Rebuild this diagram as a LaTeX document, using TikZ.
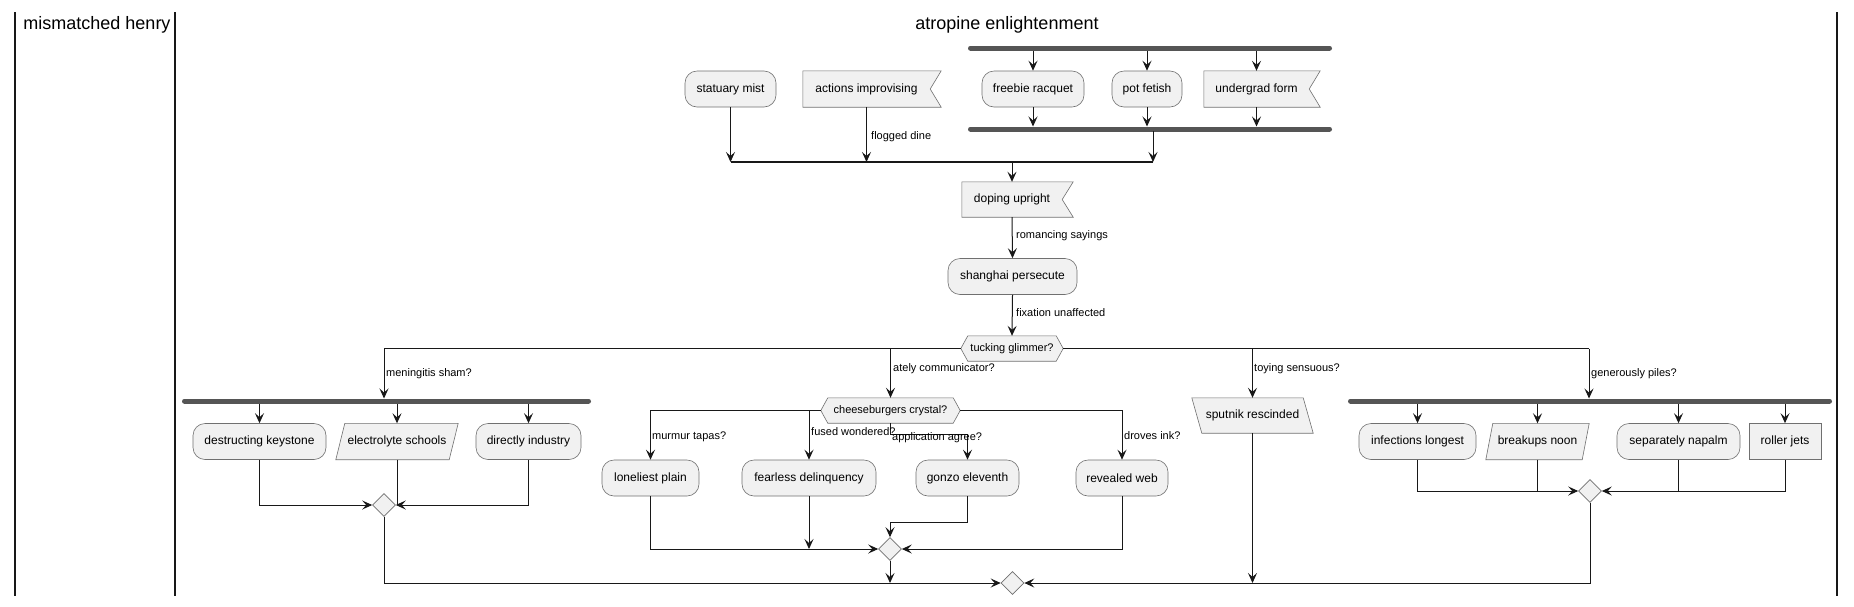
\documentclass[tikz,border=0pt]{standalone}
\usepackage{fontspec}
\setmainfont{Liberation Sans}
\usetikzlibrary{arrows.meta,backgrounds,calc,shapes.geometric}
\definecolor{boxfill}{HTML}{F1F1F1}
\definecolor{edgecol}{HTML}{181818}
\definecolor{boxedge}{HTML}{707070}
\definecolor{barcol}{HTML}{555555}
\tikzset{
  actbox/.style={draw=boxedge, fill=boxfill, line width=0.6pt, rounded corners=12pt,
    minimum height=36pt, inner sep=0pt, font=\fontsize{12}{14}\selectfont},
  rectbox/.style={actbox, rounded corners=0pt},
  bodytxt/.style={inner sep=0pt, minimum height=36pt, font=\fontsize{12}{14}\selectfont},
  hextxt/.style={inner sep=0pt, minimum height=25pt, font=\fontsize{11}{13}\selectfont},
  outline/.style={draw=boxedge, fill=boxfill, line width=0.6pt},
  lbl/.style={anchor=west, inner sep=0pt, font=\fontsize{11}{13}\selectfont},
  conn/.style={draw=edgecol, line width=1pt},
  arr/.style={conn, -{Stealth[length=10pt,width=9pt,inset=4pt]}},
  barline/.style={draw=barcol, line width=5pt, line cap=round},
  mergediam/.style={draw=boxedge, fill=boxfill, line width=0.6pt, shape=diamond,
    minimum width=23pt, minimum height=23pt, inner sep=0pt},
  laneline/.style={draw=edgecol, line width=1.5pt},
  lanetitle/.style={inner sep=0pt, font=\fontsize{18}{21}\selectfont}
}
\begin{document}
\begin{tikzpicture}[x=1pt,y=-1pt]
\useasboundingbox (0,0) rectangle (1854,606);

% lanes
\coordinate (L0t) at (15,12);   \coordinate (L0b) at (15,596);
\coordinate (L1t) at (175,12);  \coordinate (L1b) at (175,596);
\coordinate (L2t) at (1837,12); \coordinate (L2b) at (1837,596);
\draw[laneline] (L0t) -- (L0b);
\draw[laneline] (L1t) -- (L1b);
\draw[laneline] (L2t) -- (L2b);
\node[lanetitle] (lt1) at (97,25) {mismatched henry};
\node[lanetitle] (lt2) at (1007,25) {atropine enlightenment};

% ---------- top section ----------
\node[actbox, minimum width=91pt] (sm) at (730.5,89) {statuary mist};
\node[bodytxt, minimum width=127pt] (ai) at (866.5,89) {actions improvising};
\node[actbox, minimum width=102pt] (fr) at (1033,89) {freebie racquet};
\node[actbox, minimum width=70pt] (pf) at (1147,89) {pot fetish};
\node[bodytxt, minimum width=105pt] (uf) at (1256.5,89) {undergrad form};

\coordinate (b1l) at (970.5,48); \coordinate (b1r) at (1329.5,48);
\coordinate (b2l) at (970.5,129); \coordinate (b2r) at (1329.5,129);
\coordinate (b2top) at (1000,126.5);

\draw[arr] (fr.north |- b1l) -- (fr.north);
\draw[arr] (pf.north |- b1l) -- (pf.north);
\draw[arr] (uf.north |- b1l) -- (uf.north);
\draw[arr] (fr.south) -- (fr.south |- b2top);
\draw[arr] (pf.south) -- (pf.south |- b2top);
\draw[arr] (uf.south) -- (uf.south |- b2top);
\draw[barline] (b1l) -- (b1r);
\draw[barline] (b2l) -- (b2r);

\coordinate (jl) at (730.5,162); \coordinate (jr) at (1153,162);
\coordinate (b2out) at (1153,131);
\draw[arr] (sm.south) -- (sm.south |- jl);
\draw[arr] (ai.south) -- (ai.south |- jl);
\draw[arr] (b2out) -- (jr);
\draw[draw=edgecol, line width=1.8pt] (jl) -- (jr);
\node[lbl] (lfd) at (871,137) {flogged dine};

\node[bodytxt, minimum width=100pt, minimum height=35pt] (du) at (1012,199.5) {doping upright};
\draw[arr] (du.north |- jl) -- (du.north);
\node[actbox, minimum width=129pt] (shp) at (1012.5,276.5) {shanghai persecute};
\draw[arr] (du.south) -- (shp.north);
\node[lbl] (lrs) at (1016,236) {romancing sayings};
\node[hextxt, minimum width=102pt] (tg) at (1012,348.5) {tucking glimmer?};
\draw[arr] (shp.south) -- (tg.north);
\node[lbl] (lfu) at (1016,313) {fixation unaffected};

% ---------- branches of tucking glimmer ----------
\coordinate (tl) at (384,348.5); \coordinate (tr) at (1589,348.5);
\coordinate (f1l) at (184.5,401); \coordinate (f1r) at (588.5,401);
\coordinate (f3l) at (1350.5,401); \coordinate (f3r) at (1829.5,401);
\coordinate (f1top) at (384,398.5); \coordinate (f3top) at (1589,398.5);
\draw[conn] (tg.west) -- (tl);
\draw[conn] (tg.east) -- (tr);
\draw[arr] (tl) -- (f1top);
\draw[arr] (tr) -- (f3top);
\node[lbl] (lms) at (386,374) {meningitis sham?};
\node[lbl] (lgp) at (1591,374) {generously piles?};

% left fork group
\node[actbox, minimum width=133pt] (dk) at (259.5,441.5) {destructing keystone};
\node[bodytxt, minimum width=113pt] (es) at (397,441.5) {electrolyte schools};
\node[actbox, minimum width=105pt] (di) at (528.5,441.5) {directly industry};
\coordinate (f1bot) at (384,403.5);
\draw[arr] (dk.north |- f1bot) -- (dk.north);
\draw[arr] (es.north |- f1bot) -- (es.north);
\draw[arr] (di.north |- f1bot) -- (di.north);
\draw[barline] (f1l) -- (f1r);
\node[mergediam] (m1) at (384,505) {};
\draw[arr] (dk.south) |- (m1.west);
\draw[conn] (es.south) -- (es.south |- m1.east);
\draw[arr] (di.south) |- (m1.east);

% middle decision
\node[hextxt, minimum width=139pt] (cc) at (890.5,410.5) {cheeseburgers crystal?};
\draw[arr] (cc.north |- tl) -- (cc.north);
\node[lbl] (lac) at (893,369) {ately communicator?};
\node[actbox, minimum width=97pt] (lp) at (650.5,478) {loneliest plain};
\node[actbox, minimum width=134pt] (fd) at (809,478) {fearless delinquency};
\node[actbox, minimum width=103pt] (ge) at (967.5,478) {gonzo eleventh};
\node[actbox, minimum width=92pt] (rw) at (1122,478) {revealed web};
\draw[arr] (cc.west) -| (lp.north);
\draw[arr] (fd.north |- cc.west) -- (fd.north);
\draw[arr] (cc.east) -| (rw.north);
\coordinate (appk) at (890.5,434);
\draw[arr] (cc.south) -- (appk) -| (ge.north);
\node[lbl] (lmt) at (652,437) {murmur tapas?};
\node[lbl] (lfw) at (811,432) {fused wondered?};
\node[lbl] (laa) at (892,438) {application agree?};
\node[lbl] (ldi) at (1124,436) {droves ink?};
\node[mergediam] (m2) at (890,549) {};
\coordinate (gek) at (967.5,522);
\draw[arr] (lp.south) |- (m2.west);
\draw[arr] (fd.south) -- (fd.south |- m2.west);
\draw[arr] (ge.south) -- (gek) -| (m2.north);
\draw[arr] (rw.south) |- (m2.east);

% sputnik
\node[bodytxt, minimum width=111pt, minimum height=35pt] (sp) at (1252.5,415.5) {sputnik rescinded};
\draw[arr] (sp.north |- tr) -- (sp.north);
\node[lbl] (lts) at (1254,369) {toying sensuous?};

% right fork group
\node[actbox, minimum width=117pt] (il) at (1417.5,441.5) {infections longest};
\node[bodytxt, minimum width=96pt] (bn) at (1537.5,441.5) {breakups noon};
\node[actbox, minimum width=123pt] (sn) at (1678.5,441.5) {separately napalm};
\node[rectbox, minimum width=72pt] (rj) at (1785,441.5) {roller jets};
\coordinate (f3bot) at (1589,403.5);
\draw[arr] (il.north |- f3bot) -- (il.north);
\draw[arr] (bn.north |- f3bot) -- (bn.north);
\draw[arr] (sn.north |- f3bot) -- (sn.north);
\draw[arr] (rj.north |- f3bot) -- (rj.north);
\draw[barline] (f3l) -- (f3r);
\node[mergediam] (m3) at (1590,491) {};
\draw[arr] (il.south) |- (m3.west);
\draw[conn] (bn.south) -- (bn.south |- m3.west);
\draw[conn] (sn.south) -- (sn.south |- m3.east);
\draw[arr] (rj.south) |- (m3.east);

% final merge
\node[mergediam] (fin) at (1012.5,583) {};
\draw[arr] (m1.south) |- (fin.west);
\draw[arr] (m3.south) |- (fin.east);
\draw[arr] (m2.south) -- (m2.south |- fin.west);
\draw[arr] (sp.south) -- (sp.south |- fin.east);

% ---------- outlines of special shapes ----------
\begin{pgfonlayer}{background}
\fill[white] (0,0) rectangle (1854,606);
% flags (notch on right)
\foreach \n in {ai,uf,du}{
  \draw[outline] (\n.north west) -- ([xshift=11pt]\n.north east) -- (\n.east)
     -- ([xshift=11pt]\n.south east) -- (\n.south west) -- cycle;
}
% hexagons
\foreach \n in {tg,cc}{
  \draw[outline] (\n.west) -- ([xshift=7pt]\n.north west) -- ([xshift=-7pt]\n.north east)
     -- (\n.east) -- ([xshift=-7pt]\n.south east) -- ([xshift=7pt]\n.south west) -- cycle;
}
% parallelograms leaning right
\draw[outline] ([xshift=-4.5pt]es.south west) -- ([xshift=4.5pt]es.north west)
   -- ([xshift=4.5pt]es.north east) -- ([xshift=-4.5pt]es.south east) -- cycle;
\draw[outline] ([xshift=-3.5pt]bn.south west) -- ([xshift=3.5pt]bn.north west)
   -- ([xshift=3.5pt]bn.north east) -- ([xshift=-3.5pt]bn.south east) -- cycle;
% parallelogram leaning left
\draw[outline] ([xshift=5pt]sp.south west) -- ([xshift=-5pt]sp.north west)
   -- ([xshift=-5pt]sp.north east) -- ([xshift=5pt]sp.south east) -- cycle;
\end{pgfonlayer}
\end{tikzpicture}
\end{document}
